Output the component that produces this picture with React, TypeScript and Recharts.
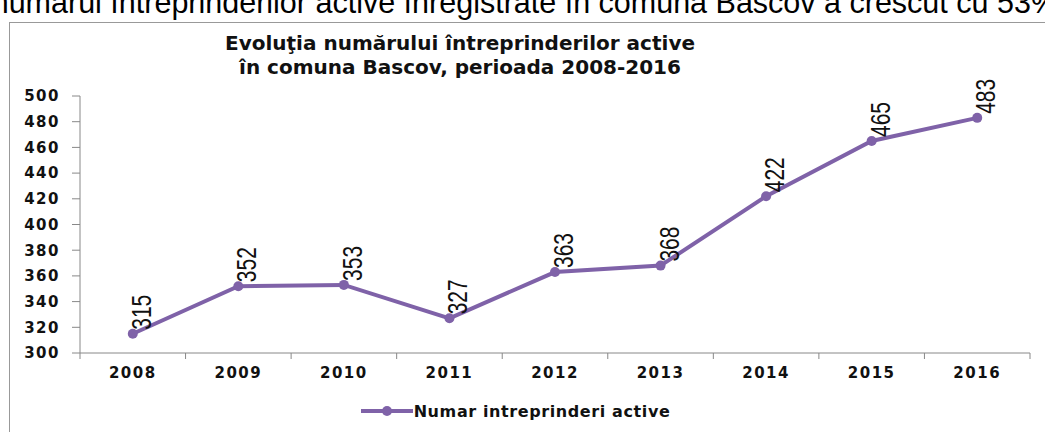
import React from 'react'
import { LineChart, Line, XAxis, YAxis, Legend, LabelList } from 'recharts'

const years = ['2008', '2009', '2010', '2011', '2012', '2013', '2014', '2015', '2016']
const active = [315, 352, 353, 327, 363, 368, 422, 465, 483]
const yTicks = [300, 320, 340, 360, 380, 400, 420, 440, 460, 480, 500]
const seriesName = 'Numar intreprinderi active'
const titleLines = ['Evoluţia numărului întreprinderilor active', 'în comuna Bascov, perioada 2008-2016']
const headText = 'numărul întreprinderilor active înregistrate în comuna Bascov a crescut cu 53%'

const purple = '#7f62a8'
const axisGray = '#888'
const tickFont = { fontFamily: 'DejaVu Sans', fontWeight: 700, fontSize: 15, fill: '#111', letterSpacing: 1.5 }
const X_TICK_GAP = 14

const data = years.map((year, i) => ({ year, value: active[i] }))

// year label, plus Excel-style tick marks between the categories
const YearTick = (props: any) => {
  const { x, y, payload, index, visibleTicksCount } = props
  const half = payload?.offset ?? 0
  const axisY = y - X_TICK_GAP
  const isLast = index === visibleTicksCount - 1
  return (
    <g>
      <line x1={x - half} y1={axisY} x2={x - half} y2={axisY + 6} stroke={axisGray} />
      {isLast && <line x1={x + half} y1={axisY} x2={x + half} y2={axisY + 6} stroke={axisGray} />}
      <text x={x} y={y} dy="0.71em" textAnchor="middle" {...tickFont}>
        {payload.value}
      </text>
    </g>
  )
}

const ValueLabel = (props: any) => {
  const { x, y, value } = props
  return (
    <text
      transform={`translate(${x + 18},${y - 4}) rotate(-90) scale(1,1.35)`}
      fontFamily="Liberation Sans"
      fontSize={21}
      fill="#111"
      textAnchor="start"
    >
      {value}
    </text>
  )
}

const LegendContent = () => (
  <div style={{ display: 'flex', justifyContent: 'center', alignItems: 'center', height: 20 }}>
    <svg width={54} height={20}>
      <line x1={1} y1={10} x2={53} y2={10} stroke={purple} strokeWidth={4} />
      <circle cx={27} cy={10} r={5} fill={purple} />
    </svg>
    <span style={{ fontFamily: 'DejaVu Sans', fontWeight: 700, fontSize: 16, color: '#111', letterSpacing: 0.6 }}>
      {seriesName}
    </span>
  </div>
)

export default function App() {
  return (
    <div style={{ position: 'absolute', left: 0, top: 0, width: 1045, height: 432, overflow: 'hidden', background: '#fff' }}>
      <svg width={1045} height={432} style={{ position: 'absolute', left: 0, top: 0 }}>
        <text x={1058} y={13} textAnchor="end" fontFamily="Liberation Sans" fontSize={30.5} fill="#000">
          {headText}
        </text>
        <rect x={9.5} y={22.5} width={1100} height={500} fill="none" stroke="#999" strokeWidth={1} />
        {titleLines.map((t, i) => (
          <text key={i} x={460} y={50 + i * 24} textAnchor="middle" fontFamily="DejaVu Sans" fontWeight={700} fontSize={20} fill="#111">
            {t}
          </text>
        ))}
      </svg>
      <div style={{ position: 'absolute', left: 0, top: 0 }}>
        <LineChart width={1045} height={432} data={data} margin={{ top: 96, right: 15, bottom: 29, left: 0 }}>
          <XAxis
            dataKey="year"
            scale="band"
            axisLine={{ stroke: axisGray }}
            tickLine={false}
            tickSize={0}
            tickMargin={X_TICK_GAP}
            height={30}
            tick={<YearTick />}
            interval={0}
          />
          <YAxis
            domain={[300, 500]}
            ticks={yTicks}
            width={80}
            tickSize={8}
            tickMargin={12}
            stroke={axisGray}
            tick={tickFont}
            interval={0}
          />
          <Legend verticalAlign="bottom" content={<LegendContent />} wrapperStyle={{ bottom: 11, height: 20 }} />
          <Line
            name={seriesName}
            dataKey="value"
            stroke={purple}
            strokeWidth={4}
            dot={{ r: 5, fill: purple, stroke: purple, strokeWidth: 0 }}
            activeDot={false}
            isAnimationActive={false}
          >
            <LabelList dataKey="value" content={<ValueLabel />} />
          </Line>
        </LineChart>
      </div>
    </div>
  )
}
